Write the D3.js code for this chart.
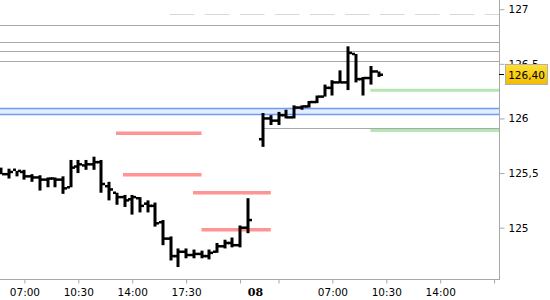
<!DOCTYPE html>
<html><head><meta charset="utf-8">
<script src="https://cdn.jsdelivr.net/npm/d3@7"></script>
<style>html,body{margin:0;padding:0;background:#fff;}svg{display:block;}</style>
</head><body>
<svg id="c" width="550" height="300"></svg>
<script>
// 30-min OHLC bars, slot index (day break slot 33)
const slots = [0,1,2,3,4,5,6,7,8,9,10,11,12,13,14,15,16,17,18,19,20,21,22,23,24,25,26,27,28,29,30,31,32,
               34,35,36,37,38,39,40,41,42,43,44,45,46,47,48,49];
const opens  = [125.53,125.49,125.53,125.51,125.47,125.46,125.44,125.45,125.44,125.37,125.56,125.57,125.58,125.60,125.38,125.32,125.28,125.26,125.27,125.22,125.20,125.05,124.90,124.74,124.78,124.75,124.76,124.74,124.78,124.83,124.86,124.84,125.00,
                125.81,126.00,125.98,126.03,126.01,126.10,126.11,126.15,126.20,126.28,126.33,126.33,126.59,126.36,126.37,126.43];
const highs  = [125.55,125.54,125.52,125.53,125.49,125.48,125.46,125.46,125.47,125.62,125.62,125.62,125.65,125.62,125.42,125.32,125.30,125.30,125.28,125.25,125.23,125.07,124.92,124.81,124.81,124.80,124.79,124.80,124.86,124.89,124.91,125.02,125.27,
                126.05,126.03,126.06,126.08,126.12,126.12,126.16,126.21,126.31,126.35,126.44,126.66,126.59,126.38,126.48,126.43];
const lows   = [125.49,125.45,125.47,125.44,125.42,125.34,125.37,125.37,125.31,125.37,125.50,125.53,125.53,125.32,125.25,125.21,125.19,125.12,125.14,125.14,125.01,124.84,124.70,124.64,124.72,124.72,124.72,124.71,124.77,124.81,124.82,124.82,124.95,
                125.74,125.94,125.94,126.00,126.00,126.08,126.10,126.14,126.20,126.21,126.32,126.26,126.33,126.21,126.31,126.38];
const closes = [125.49,125.51,125.52,125.47,125.46,125.44,125.45,125.44,125.36,125.55,125.58,125.58,125.60,125.40,125.35,125.28,125.25,125.28,125.20,125.20,125.04,124.90,124.74,124.78,124.75,124.76,124.74,124.77,124.83,124.86,124.84,125.00,125.07,
                126.00,125.98,126.03,126.01,126.10,126.11,126.15,126.20,126.28,126.33,126.33,126.60,126.36,126.37,126.43,126.40];

// x axis ticks (slot index) and labels
const tickSlots  = [3,10,17,24,31,36,43,50,57,64];
const tickLabels = ["07:00","10:30","14:00","17:30","","","07:00","10:30","14:00",""];
const dayLabelSlot = [33];
const dayLabels = ["08"];

// y axis
const yTicks = [125,125.5,126,126.5,127];
const lastPrice = [126.40];

// horizontal levels
const greyLevels  = [126.854,126.700,126.620,126.530];
const greyShort   = [125.910];
const greyShortFrom = [34];
const dashedLevel = [126.96];
const dashedFrom = [21.9];
const blueBand = [126.041,126.093];
const redLevels = [125.865,125.484,125.320,124.982];
const redFrom   = [14.9,15.8,24.9,26];
const redTo     = [26,26,35,35];
const greenLevels = [126.258,125.889];
const greenFrom = [48,48];

const W=550,H=300, plotR=499, plotB=279;
const svg=d3.select("#c");
const x=d3.scaleLinear().domain([0,64]).range([1.3,494.1]);
const y=d3.scaleLinear().domain([125,127]).range([227.7,9.2]);

const g=svg.append("g");
// blue band
g.append("rect").attr("x",0).attr("width",plotR).attr("y",y(blueBand[1])).attr("height",y(blueBand[0])-y(blueBand[1])).attr("fill","#e3edfd");
blueBand.forEach(v=>g.append("line").attr("x1",0).attr("x2",plotR).attr("y1",Math.round(y(v))+0.5).attr("y2",Math.round(y(v))+0.5).attr("stroke","#6e9cf2").attr("stroke-width",1.5));
// grey levels
greyLevels.forEach(v=>g.append("line").attr("x1",0).attr("x2",plotR).attr("y1",Math.round(y(v))+0.5).attr("y2",Math.round(y(v))+0.5).attr("stroke","#a8a8a8").attr("stroke-width",1.2));
greyShort.forEach((v,i)=>g.append("line").attr("x1",x(greyShortFrom[i])).attr("x2",plotR).attr("y1",Math.round(y(v))+0.5).attr("y2",Math.round(y(v))+0.5).attr("stroke","#a8a8a8").attr("stroke-width",1.2));
dashedLevel.forEach((v,i)=>g.append("line").attr("x1",x(dashedFrom[i])).attr("x2",plotR).attr("y1",Math.round(y(v))+0.5).attr("y2",Math.round(y(v))+0.5).attr("stroke","#d8d8d8").attr("stroke-width",1).attr("stroke-dasharray","24.5,10.5"));
// green
greenLevels.forEach((v,i)=>g.append("line").attr("x1",x(greenFrom[i])-0.5).attr("x2",plotR).attr("y1",y(v)).attr("y2",y(v)).attr("stroke","#b6e6b4").attr("stroke-width",3));
// red
redLevels.forEach((v,i)=>g.append("line").attr("x1",x(redFrom[i])).attr("x2",x(redTo[i])).attr("y1",y(v)).attr("y2",y(v)).attr("stroke","#ff9494").attr("stroke-width",3.5));

// bars
const bars=g.append("g");
slots.forEach((s,i)=>{
  const cx=Math.round(x(s));
  bars.append("rect").attr("x",cx-1.5).attr("width",3).attr("y",y(highs[i])).attr("height",Math.max(2,y(lows[i])-y(highs[i]))).attr("fill","#000");
  bars.append("rect").attr("x",cx-4).attr("width",3).attr("y",y(opens[i])-1.25).attr("height",2.5).attr("fill","#000");
  bars.append("rect").attr("x",cx+1).attr("width",3).attr("y",y(closes[i])-1.25).attr("height",2.5).attr("fill","#000");
});

// axes
const ax=svg.append("g");
ax.append("line").attr("x1",plotR+0.5).attr("x2",plotR+0.5).attr("y1",0).attr("y2",plotB).attr("stroke","#a8a8a8");
ax.append("line").attr("x1",0).attr("x2",plotR+1).attr("y1",plotB+0.5).attr("y2",plotB+0.5).attr("stroke","#a8a8a8");
const yAxis=d3.axisRight(y).tickValues(yTicks).tickSize(5).tickPadding(4).tickFormat(d=>d3.format("")(d).replace(".",","));
const ya=ax.append("g").attr("transform",`translate(${plotR+0.5},0)`).call(yAxis);
ya.select(".domain").remove();
ya.selectAll(".tick line").attr("stroke","#a8a8a8");
ya.selectAll("text").attr("fill","#000").style("font-family","DejaVu Sans").style("font-size","10.5px");
const xAxis=d3.axisBottom(x).tickValues(tickSlots).tickSize(4).tickPadding(5).tickFormat((d,i)=>tickLabels[i]);
const xa=ax.append("g").attr("transform",`translate(0,${plotB+0.5})`).call(xAxis);
xa.select(".domain").remove();
xa.selectAll(".tick line").attr("stroke","#a8a8a8");
xa.selectAll("text").attr("fill","#000").style("font-family","DejaVu Sans").style("font-size","10.5px");
dayLabelSlot.forEach((s,i)=>ax.append("text").attr("x",x(s)).attr("y",296).attr("text-anchor","middle").style("font-family","DejaVu Serif").style("font-weight","bold").style("font-size","11px").text(dayLabels[i]));

// last price label
const lp=lastPrice[0];
const grad=svg.append("defs").append("linearGradient").attr("id","gold").attr("x1",0).attr("y1",0).attr("x2",0).attr("y2",1);
grad.append("stop").attr("offset","0").attr("stop-color","#ffe033");
grad.append("stop").attr("offset","1").attr("stop-color","#f2bb00");
const ly=Math.round(y(lp));
ax.append("line").attr("x1",plotR).attr("x2",plotR+5).attr("y1",ly-0.5).attr("y2",ly-0.5).attr("stroke","#000");
ax.append("rect").attr("x",505.5).attr("y",ly-10.5).attr("width",42).attr("height",20).attr("fill","url(#gold)").attr("stroke","#b0b0b0");
ax.append("text").attr("x",526.5).attr("y",ly+3.5).attr("text-anchor","middle").style("font-family","DejaVu Sans").style("font-size","10.5px").attr("fill","#000").text(d3.format(".2f")(lp).replace(".",","));
</script>
</body></html>
